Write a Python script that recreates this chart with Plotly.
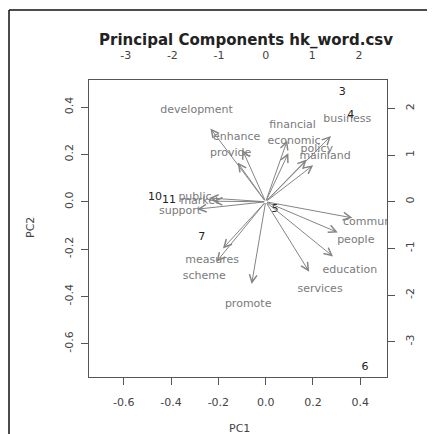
import plotly.graph_objects as go

# ---- data ----
# variable loadings (label positions, PC1 / PC2)
words = ["development", "enhance", "provide", "financial", "economic", "business",
         "policy", "mainland", "public", "market", "support", "community",
         "people", "education", "services", "promote", "measures", "scheme"]
load_pc1 = [-0.292, -0.123, -0.148, 0.114, 0.120, 0.345,
            0.216, 0.251, -0.299, -0.278, -0.362, 0.458,
            0.381, 0.356, 0.230, -0.074, -0.226, -0.260]
load_pc2 = [0.388, 0.275, 0.207, 0.324, 0.258, 0.348,
            0.223, 0.193, 0.020, 0.003, -0.039, -0.085,
            -0.162, -0.289, -0.370, -0.434, -0.247, -0.317]

# observation scores (document numbers)
obs = ["3", "4", "5", "6", "7", "10", "11"]
score_pc1 = [1.64, 1.82, 0.20, 2.13, -1.37, -2.37, -2.07]
score_pc2 = [2.34, 1.86, -0.16, -3.54, -0.76, 0.09, 0.04]

load_ticks = [-0.6, -0.4, -0.2, 0.0, 0.2, 0.4]
score_ticks = [-3, -2, -1, 0, 1, 2]

ARROW_FRAC = 0.8  # R biplot draws arrows to 0.8 of label position

FONT = "DejaVu Sans"
WORD_COL = "#7a7a7a"
ARROW_COL = "#858585"
AXIS_COL = "#555555"
TICK_COL = "#444444"

# page has an 8px body margin; figure sized so it fills the 435x434 window
OFF = 8
W, H = 435 - OFF, 434 - OFF
L, R, T, B = 81, 48, 72, 57
pw, ph = W - L - R, H - T - B
PX0, PY0 = OFF + L, OFF + T          # screen position of plot top-left
PY1 = PY0 + ph                        # screen position of plot bottom


def sx(px):
    return (px - PX0) / pw


def sy(py):
    return (PY1 - py) / ph


fig = go.Figure()

fig.add_trace(go.Scatter(
    x=load_pc1, y=load_pc2, mode="text", text=words,
    textfont=dict(family=FONT, size=11, color=WORD_COL),
    textposition="middle center", cliponaxis=True, hoverinfo="skip",
    xaxis="x", yaxis="y", showlegend=False))

fig.add_trace(go.Scatter(
    x=score_pc1, y=score_pc2, mode="text", text=obs,
    textfont=dict(family=FONT, size=11, color="#222222"),
    textposition="middle center", cliponaxis=True, hoverinfo="skip",
    xaxis="x2", yaxis="y2", showlegend=False))

annotations = []
for lx, ly in zip(load_pc1, load_pc2):
    annotations.append(dict(
        x=lx * ARROW_FRAC, y=ly * ARROW_FRAC, ax=0, ay=0,
        xref="x", yref="y", axref="x", ayref="y",
        text="", showarrow=True, arrowhead=5, arrowsize=1.5,
        arrowwidth=1, arrowcolor=ARROW_COL))

annotations.append(dict(
    text="<b>Principal Components hk_word.csv</b>", x=sx(246), y=sy(40),
    xref="paper", yref="paper", showarrow=False, xanchor="center", yanchor="middle",
    font=dict(family=FONT, size=15, color="#222222")))
annotations.append(dict(
    text="PC1", x=sx(239), y=sy(428), xref="paper", yref="paper",
    showarrow=False, xanchor="center", yanchor="middle",
    font=dict(family=FONT, size=11, color=TICK_COL)))
annotations.append(dict(
    text="PC2", x=sx(30), y=sy(228), xref="paper", yref="paper",
    showarrow=False, xanchor="center", yanchor="middle", textangle=-90,
    font=dict(family=FONT, size=11, color=TICK_COL)))

shapes = [
    dict(type="line", xref="paper", yref="paper",
         x0=sx(9), x1=sx(440), y0=sy(10), y1=sy(10),
         line=dict(color="#111111", width=1.5)),
    dict(type="line", xref="paper", yref="paper",
         x0=sx(9), x1=sx(9), y0=sy(10), y1=sy(440),
         line=dict(color="#111111", width=1.5)),
]

axis_common = dict(showgrid=False, zeroline=False, ticks="outside", ticklen=7,
                   tickwidth=1, tickcolor=AXIS_COL,
                   tickfont=dict(family=FONT, size=11, color=TICK_COL))

fig.update_layout(
    width=W, height=H, margin=dict(l=L, r=R, t=T, b=B, pad=0),
    paper_bgcolor="white", plot_bgcolor="white",
    xaxis=dict(range=[-0.747, 0.513], tickvals=load_ticks, ticktext=[f"{v:.1f}" for v in load_ticks],
               showline=True, linecolor=AXIS_COL, linewidth=1, mirror=True,
               ticklabelstandoff=8, **axis_common),
    yaxis=dict(range=[-0.741, 0.515], tickvals=load_ticks, ticktext=[f"{v:.1f}" for v in load_ticks],
               showline=True, linecolor=AXIS_COL, linewidth=1, mirror=True,
               tickangle=-90, ticklabelstandoff=4, **axis_common),
    xaxis2=dict(range=[-3.786, 2.599], tickvals=score_ticks, ticktext=[str(v) for v in score_ticks],
                overlaying="x", side="top", showline=False, showgrid=False, zeroline=False,
                ticks="", ticklabelstandoff=18,
                tickfont=dict(family=FONT, size=11, color=TICK_COL)),
    yaxis2=dict(range=[-3.756, 2.608], tickvals=score_ticks, ticktext=[str(v) for v in score_ticks],
                overlaying="y", side="right", showline=False, tickangle=-90,
                ticklabelstandoff=6, **axis_common),
    annotations=annotations, shapes=shapes,
)

fig.write_html("out.html")
